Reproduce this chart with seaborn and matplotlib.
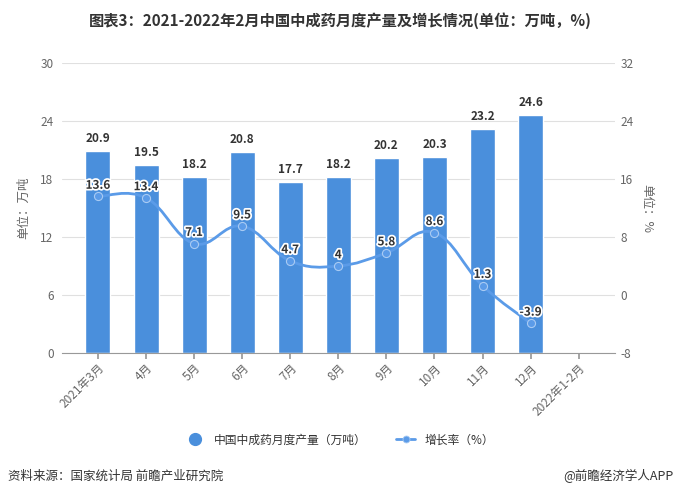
import numpy as np
import pandas as pd
import matplotlib
matplotlib.use("Agg")
import matplotlib.pyplot as plt
import matplotlib.patheffects as pe
from matplotlib.path import Path
from matplotlib.patches import PathPatch
from matplotlib.lines import Line2D
import seaborn as sns

months = ['2021年3月', '4月', '5月', '6月', '7月', '8月', '9月', '10月', '11月', '12月', '2022年1-2月']
output = [20.9, 19.5, 18.2, 20.8, 17.7, 18.2, 20.2, 20.3, 23.2, 24.6, np.nan]
growth = [13.6, 13.4, 7.1, 9.5, 4.7, 4.0, 5.8, 8.6, 1.3, -3.9, np.nan]
left_ticks = [0, 6, 12, 18, 24, 30]
right_ticks = [-8, 0, 8, 16, 24, 32]

sns.set_theme(style="white")
plt.rcParams['font.family'] = ['Noto Sans CJK SC', 'DejaVu Sans']
plt.rcParams['axes.unicode_minus'] = False

BAR = '#4a8fdc'
LINE = '#5b9be8'
TXT = '#333333'
TICK = '#666666'

df = pd.DataFrame({'month': months, 'output': output, 'growth': growth})

fig = plt.figure(figsize=(6.8, 5.0), dpi=100)
ax = fig.add_axes([0.091, 0.294, 0.813, 0.58])
sns.barplot(data=df, x='month', y='output', order=months, color=BAR,
            saturation=1, width=0.52, ax=ax, zorder=2)
ax.set_ylim(0, 30)
ax.set_yticks(left_ticks)
ax.set_xlim(-0.75, len(months) - 0.25)
ax.grid(axis='y', color='#e0e0e0', linewidth=0.8, zorder=0)
ax.set_axisbelow(True)
for s in ['top', 'right', 'left']:
    ax.spines[s].set_visible(False)
ax.spines['bottom'].set_color('#999999')
ax.spines['bottom'].set_linewidth(0.8)
ax.tick_params(axis='y', length=0, labelsize=8.5, labelcolor=TICK, pad=6)
ax.tick_params(axis='x', length=4, color='#999999', labelsize=8.5, labelcolor=TICK, pad=2, bottom=True)
ax.set_xticks(range(len(months)))
ax.set_xticklabels(months, rotation=45, ha='right', rotation_mode='anchor')
ax.set_xlabel('')
ax.set_ylabel('单位：万吨', fontsize=9, color=TICK, labelpad=7)

for i, v in enumerate(output):
    if not np.isnan(v):
        ax.annotate(f'{v:g}', (i, v), xytext=(0, 9), textcoords='offset points',
                    ha='center', va='center', fontsize=8.5, fontweight='bold', color=TXT, zorder=5)

ax2 = ax.twinx()
ax2.set_ylim(-8, 32)
ax2.set_yticks(right_ticks)
for s in ['top', 'right', 'left', 'bottom']:
    ax2.spines[s].set_visible(False)
ax2.tick_params(axis='y', length=0, labelsize=8.5, labelcolor=TICK, pad=4)
ax2.grid(False)

# smooth curve through the data points (Catmull-Rom as cubic Bezier)
gdf = df.dropna(subset=['growth']).reset_index()
xs = gdf['index'].to_numpy(dtype=float)
ys = gdf['growth'].to_numpy(dtype=float)
verts = [(xs[0], ys[0])]
codes = [Path.MOVETO]
t = 0.2
for k in range(len(xs) - 1):
    p0 = np.array([xs[max(k - 1, 0)], ys[max(k - 1, 0)]])
    p1 = np.array([xs[k], ys[k]])
    p2 = np.array([xs[k + 1], ys[k + 1]])
    p3 = np.array([xs[min(k + 2, len(xs) - 1)], ys[min(k + 2, len(xs) - 1)]])
    c1 = p1 + (p2 - p0) * t
    c2 = p2 - (p3 - p1) * t
    verts += [tuple(c1), tuple(c2), tuple(p2)]
    codes += [Path.CURVE4] * 3
ax2.add_patch(PathPatch(Path(verts, codes), facecolor='none', edgecolor=LINE, linewidth=2, zorder=3))
sns.scatterplot(data=gdf, x='index', y='growth', ax=ax2, s=34,
                facecolor=LINE, edgecolor='#a9cbf3', linewidth=0.8, zorder=4, legend=False)
ax2.collections[-1].set_facecolor(LINE)
ax2.collections[-1].set_edgecolor('#a9cbf3')
ax2.set_xlabel('')
ax2.set_ylabel('单位：%', fontsize=9, color=TICK, rotation=-90, labelpad=14)
ax2.set_xlim(ax.get_xlim())

for i, v in zip(xs, ys):
    ax2.annotate(f'{v:g}', (i, v), xytext=(0, 8), textcoords='offset points',
                 ha='center', va='center', fontsize=8.5, fontweight='bold', color=TXT, zorder=6,
                 path_effects=[pe.withStroke(linewidth=2.5, foreground='white')])

fig.text(0.5, 0.958, '图表3：2021-2022年2月中国中成药月度产量及增长情况(单位：万吨，%)',
         ha='center', va='center', fontsize=11, fontweight='bold', color=TXT)

handles = [Line2D([0], [0], marker='o', linestyle='none', markersize=8.5, color=BAR),
           Line2D([0], [0], marker='o', linestyle='-', markersize=5, color=LINE, linewidth=2,
                  markeredgecolor='#a9cbf3', markeredgewidth=0.6)]
fig.legend(handles, ['中国中成药月度产量（万吨）', '增长率（%）'], loc='center',
           bbox_to_anchor=(0.5, 0.12), ncol=2, frameon=False, fontsize=8.5,
           handlelength=1.6, columnspacing=2.5, labelcolor=TXT)

fig.text(0.012, 0.048, '资料来源：国家统计局 前瞻产业研究院', ha='left', va='center', fontsize=9, color=TXT)
fig.text(0.99, 0.048, '@前瞻经济学人APP', ha='right', va='center', fontsize=9, color=TXT)

fig.savefig('out.png', dpi=100)
